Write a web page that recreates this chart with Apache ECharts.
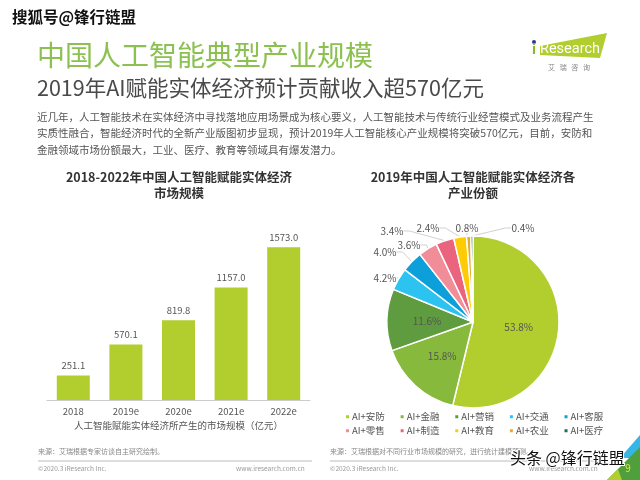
<!DOCTYPE html>
<html>
<head>
<meta charset="utf-8">
<style>html,body{margin:0;padding:0;background:#fff}#main{width:640px;height:480px}</style>
<script src="https://cdn.jsdelivr.net/npm/echarts@6/dist/echarts.min.js"></script>
</head>
<body>
<div id="main"></div>
<script>
let years = ['2018', '2019e', '2020e', '2021e', '2022e'];
let marketSize = [251.1, 570.1, 819.8, 1157.0, 1573.0];

let industries = ['AI+安防', 'AI+金融', 'AI+营销', 'AI+交通', 'AI+客服', 'AI+零售', 'AI+制造', 'AI+教育', 'AI+农业', 'AI+医疗'];
let shares = [53.8, 15.8, 11.6, 4.2, 4.0, 3.6, 3.4, 2.4, 0.8, 0.4];
let colorList = ['#b1cd2e', '#86b93c', '#5f9c3f', '#2cc3f0', '#0d9fd9', '#f08d99', '#e9647c', '#ffcb05', '#e6ab2b', '#1f6f50'];

// where the small outside labels sit
let labelSpots = [null, null, null, [385, 278], [385, 252], [409, 245], [392, 231], [428, 228], [467, 228], [523, 228]];

let bodyLines = [
  '近几年，人工智能技术在实体经济中寻找落地应用场景成为核心要义，人工智能技术与传统行业经营模式及业务流程产生',
  '实质性融合，智能经济时代的全新产业版图初步显现，预计2019年人工智能核心产业规模将突破570亿元，目前，安防和',
  '金融领域市场份额最大，工业、医疗、教育等领域具有爆发潜力。'
];

let cjk = '"Noto Sans CJK SC", sans-serif';

function text(x, y, str, size, color, extra) {
  return {
    type: 'text', x: x, y: y, z: 5,
    style: Object.assign({text: str, fontSize: size, fill: color, fontFamily: cjk, textVerticalAlign: 'middle', verticalAlign: 'middle'}, extra || {})
  };
}

function poly(points, color) {
  return {type: 'polygon', z: 1, shape: {points: points}, style: {fill: color}};
}

function legendRow(names, top) {
  return {
    data: names,
    left: 344,
    top: top,
    icon: 'rect',
    itemWidth: 5,
    itemHeight: 5,
    itemGap: 13.8,
    padding: 0,
    textStyle: {color: '#555555', fontSize: 9.5, padding: [0, 0, 0, -3]}
  };
}

let pageItems = [
  text(37, 55, '中国人工智能典型产业规模', 28, '#8cc152'),
  text(37, 88, '2019年AI赋能实体经济预计贡献收入超570亿元', 21.5, '#4a4a4a'),
  text(37, 117, bodyLines[0], 10.5, '#555555'),
  text(37, 133, bodyLines[1], 10.5, '#555555'),
  text(37, 150, bodyLines[2], 10.5, '#555555'),
  text(179, 177, '2018-2022年中国人工智能赋能实体经济', 12.5, '#333333', {fontWeight: 'bold', align: 'center'}),
  text(179, 193, '市场规模', 12.5, '#333333', {fontWeight: 'bold', align: 'center'}),
  text(473, 177, '2019年中国人工智能赋能实体经济各', 12.5, '#333333', {fontWeight: 'bold', align: 'center'}),
  text(473, 193, '产业份额', 12.5, '#333333', {fontWeight: 'bold', align: 'center'}),
  text(38, 451, '来源：艾瑞根据专家访谈自主研究绘制。', 7, '#888888'),
  text(330, 451, '来源：艾瑞根据对不同行业市场规模的研究，进行统计建模预测。', 7, '#888888'),
  text(38, 469, '©2020.3 iResearch Inc.', 6.5, '#999999'),
  text(236, 469, 'www.iresearch.com.cn', 6.5, '#999999'),
  text(330, 469, '©2020.3 iResearch Inc.', 6.5, '#999999'),
  text(529, 469, 'www.iresearch.com.cn', 6.5, '#999999'),
  {type: 'line', z: 1, shape: {x1: 38, y1: 461, x2: 312, y2: 461}, style: {stroke: '#bbbbbb', lineWidth: 1}},
  {type: 'line', z: 1, shape: {x1: 330, y1: 461, x2: 604, y2: 461}, style: {stroke: '#bbbbbb', lineWidth: 1}},
  // logo
  poly([[540, 46], [607, 33], [600, 58], [540, 55]], '#b1cd2e'),
  {type: 'circle', z: 2, shape: {cx: 534, cy: 42, r: 2}, style: {fill: '#2b3a8c'}},
  text(532, 50, 'i', 15, '#8cb82e', {fontFamily: 'Roboto', fontWeight: 'bold'}),
  text(540, 49, 'Research', 14.5, '#ffffff', {fontFamily: 'Roboto'}),
  text(569, 67, '艾   瑞   咨   询', 7, '#888888', {align: 'center'}),
  // corner decoration
  poly([[640, 435], [620, 458], [640, 458]], '#35b6e6'),
  poly([[640, 447], [607, 480], [640, 480]], '#4f9f3d'),
  poly([[618, 469], [607, 480], [622, 480]], '#b1cd2e'),
  text(628, 468, '9', 10, '#d8e84a', {align: 'center'}),
  // watermarks
  text(12, 17, '搜狐号@锋行链盟', 15.5, '#111111', {fontWeight: 'bold', stroke: '#ffffff', lineWidth: 2}),
  text(510, 458, '头条 @锋行链盟', 16, '#111111', {stroke: '#ffffff', lineWidth: 2})
];

let option = {
  backgroundColor: '#ffffff',
  animation: false,
  color: colorList,
  textStyle: {fontFamily: cjk},
  grid: {left: 47, right: 330, top: 230, bottom: 80, containLabel: false},
  xAxis: {
    type: 'category',
    data: years,
    axisTick: {show: false},
    axisLine: {lineStyle: {color: '#cccccc'}},
    axisLabel: {color: '#555555', fontSize: 9.5, margin: 7},
    name: '人工智能赋能实体经济所产生的市场规模（亿元）',
    nameLocation: 'middle',
    nameGap: 21,
    nameTextStyle: {color: '#555555', fontSize: 9.5}
  },
  yAxis: {type: 'value', min: 0, max: 1750, show: false, splitLine: {show: false}},
  legend: [legendRow(industries.slice(0, 5), 412), legendRow(industries.slice(5), 426)],
  series: [
    {
      type: 'bar',
      data: marketSize,
      barWidth: 33,
      itemStyle: {color: '#b1cd2e'},
      label: {show: true, position: 'top', distance: 5, color: '#555555', fontSize: 9.5, formatter: function (p) { return p.value.toFixed(1); }}
    },
    {
      type: 'pie',
      radius: 86,
      center: [473, 322],
      startAngle: 90,
      data: industries.map(function (name, i) {
        return {
          name: name,
          value: shares[i],
          label: {position: labelSpots[i] ? 'outside' : 'inside'},
          labelLine: {show: !!labelSpots[i]}
        };
      }),
      itemStyle: {borderColor: '#ffffff', borderWidth: 1.5},
      label: {color: '#555555', fontSize: 10, formatter: function (p) { return p.value.toFixed(1) + '%'; }},
      labelLine: {length: 8, length2: 6, lineStyle: {color: '#bbbbbb', width: 0.7}},
      labelLayout: function (p) {
        let spot = labelSpots[p.dataIndex];
        if (!spot) return {};
        return {x: spot[0], y: spot[1], align: 'center', verticalAlign: 'middle'};
      }
    }
  ],
  graphic: {elements: pageItems}
};

var chart = echarts.init(document.getElementById('main'));
chart.setOption(option);
</script>
</body>
</html>
